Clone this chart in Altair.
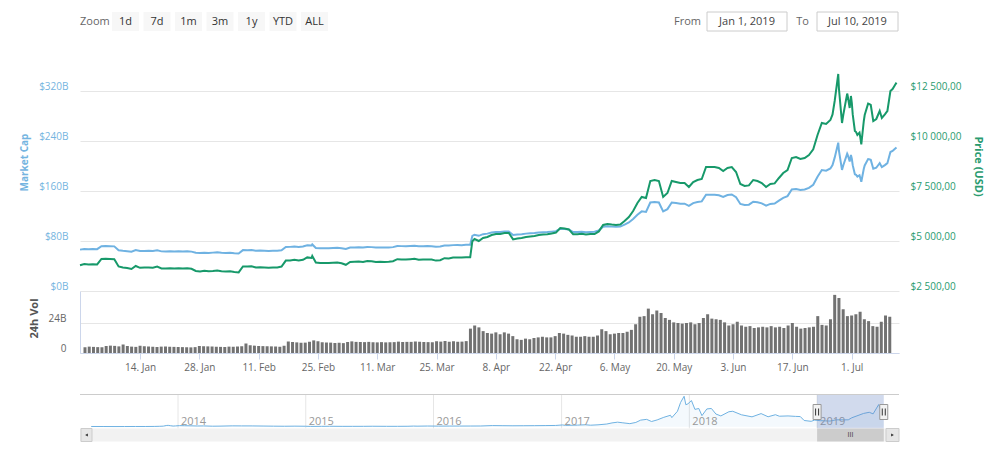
import altair as alt
import pandas as pd

# ---------------- data ----------------
# daily price (USD) and market cap ($B), Jan 1 .. Jun 25 2019
price_jan = [3790, 3850, 3820, 3840, 3830, 4100, 4110, 4100, 4090, 3730, 3680, 3650, 3600, 3750, 3660, 3670,
             3680, 3660, 3720, 3630, 3620, 3640, 3630, 3640, 3630, 3640, 3610, 3500, 3480, 3510, 3490]
price_feb = [3500, 3530, 3490, 3480, 3490, 3450, 3430, 3730, 3720, 3740, 3680, 3690, 3680, 3660, 3670, 3680,
             3720, 4020, 4030, 4060, 4020, 4060, 4180, 4150, 3920, 3900, 3900, 3900]
price_mar = [3910, 3920, 3890, 3810, 3950, 3960, 3970, 3950, 4000, 3990, 3950, 3960, 3950, 3960, 3990, 4090,
             4080, 4070, 4090, 4110, 4060, 4070, 4080, 4070, 4020, 4040, 4140, 4130, 4170, 4180, 4170]
price_apr = [4190, 4190, 5100, 5000, 5150, 5200, 5300, 5350, 5350, 5400, 5400, 5080, 5120, 5150, 5200, 5230,
             5250, 5300, 5320, 5340, 5380, 5420, 5650, 5620, 5580, 5340, 5340, 5360, 5330, 5350]
price_may = [5350, 5480, 5800, 5850, 5820, 5800, 5820, 6000, 6200, 6500, 6900, 7200, 7150, 8000, 8050, 8000,
             7200, 7400, 8000, 7950, 7900, 7900, 7700, 7950, 8050, 8100, 8700, 8700, 8700, 8650, 8500]
price_jun = [8650, 8700, 8450, 7850, 7750, 7780, 8050, 8000, 7900, 7700, 7850, 7880, 8150, 8400, 8550, 9150,
             9200, 9100, 9150, 9300, 9580, 10300, 10900, 10850, 11050]

mcap_jan = [66.2, 67.2, 66.7, 67.0, 66.9, 71.6, 71.8, 71.6, 71.4, 65.1, 64.3, 63.7, 62.9, 65.5, 63.9, 64.1,
            64.3, 63.9, 65.0, 63.4, 63.2, 63.6, 63.4, 63.6, 63.4, 63.6, 63.0, 61.1, 60.8, 61.3, 60.9]
mcap_feb = [61.4, 61.9, 61.2, 61.0, 61.2, 60.5, 60.1, 65.4, 65.2, 65.6, 64.5, 64.7, 64.5, 64.2, 64.3, 64.5,
            65.2, 70.5, 70.6, 71.2, 70.5, 71.2, 73.3, 72.7, 68.7, 68.4, 68.4, 68.4]
mcap_mar = [68.8, 69.0, 68.5, 67.1, 69.5, 69.7, 69.9, 69.5, 70.4, 70.2, 69.5, 69.7, 69.5, 69.7, 70.2, 72.0,
            71.8, 71.6, 72.0, 72.3, 71.5, 71.6, 71.8, 71.6, 70.8, 71.1, 72.9, 72.7, 73.4, 73.6, 73.4]
mcap_apr = [74.0, 74.0, 90.0, 88.3, 90.9, 91.8, 93.5, 94.4, 94.4, 95.3, 95.3, 89.7, 90.4, 90.9, 91.8, 92.3,
            92.7, 93.5, 93.9, 94.3, 95.0, 95.7, 99.7, 99.2, 98.5, 94.3, 94.3, 94.6, 94.1, 94.4]
mcap_may = [94.7, 97.0, 102.7, 103.5, 103.0, 102.7, 103.0, 106.2, 109.7, 115.1, 122.1, 127.4, 126.6, 141.6,
            142.5, 141.6, 127.4, 131.0, 141.6, 140.7, 139.8, 139.8, 136.3, 140.7, 142.5, 143.4, 154.0, 154.0,
            154.0, 153.1, 150.5]
mcap_jun = [153.5, 154.4, 150.0, 139.3, 137.6, 138.1, 142.9, 142.0, 140.2, 136.7, 139.3, 139.9, 144.7, 149.1,
            151.8, 162.4, 163.3, 161.5, 162.4, 165.1, 170.0, 182.8, 193.5, 192.6, 196.1]

# intraday points
extra_dates = ["2019-02-24T04:00:00", "2019-04-02T12:00:00"]
extra_price = [4250, 4990]
extra_mcap = [74.5, 88.1]

late_dates = ["2019-06-25T12:00:00", "2019-06-26T00:00:00", "2019-06-26T20:00:00", "2019-06-27T00:00:00",
              "2019-06-27T17:00:00", "2019-06-28T00:00:00", "2019-06-28T22:00:00", "2019-06-29T00:00:00",
              "2019-06-29T12:00:00", "2019-06-29T19:00:00", "2019-06-30T00:00:00", "2019-06-30T05:00:00",
              "2019-06-30T17:00:00", "2019-07-01T00:00:00", "2019-07-01T07:00:00", "2019-07-01T19:00:00",
              "2019-07-02T00:00:00", "2019-07-02T05:00:00", "2019-07-02T19:00:00", "2019-07-03T00:00:00",
              "2019-07-03T19:00:00", "2019-07-04T00:00:00", "2019-07-04T10:00:00", "2019-07-05T00:00:00",
              "2019-07-05T17:00:00", "2019-07-06T00:00:00", "2019-07-06T12:00:00", "2019-07-07T00:00:00",
              "2019-07-07T17:00:00", "2019-07-08T00:00:00", "2019-07-08T07:00:00", "2019-07-09T00:00:00",
              "2019-07-09T12:00:00", "2019-07-10T00:00:00", "2019-07-10T10:00:00"]
late_price = [11330, 12000, 13350, 12600, 10900, 11300, 12370, 12300, 11650, 12250, 11900, 11330, 10500,
              10450, 10300, 10420, 10150, 9830, 11000, 11300, 11870, 11850, 11800, 11000, 11100, 11250, 11500,
              11150, 11330, 11420, 11500, 12500, 12600, 12780, 12920]
late_mcap = [201.4, 213.4, 237.4, 224.0, 193.8, 200.9, 219.9, 218.7, 207.1, 217.8, 211.6, 201.4, 186.7,
             185.8, 183.1, 185.3, 180.5, 174.8, 195.6, 200.9, 211.0, 210.7, 209.8, 195.6, 197.4, 200.0, 204.5,
             198.2, 201.4, 203.0, 204.5, 222.3, 224.0, 227.2, 229.7]

# daily 24h volume ($B), Jan 1 .. Jul 10 2019
vol_jan = [4.6, 5.1, 4.9, 4.7, 4.6, 5.6, 5.9, 5.7, 5.3, 6.8, 5.6, 5.1, 4.9, 5.8, 5.4, 5.2, 5.0, 4.8, 5.1, 5.2,
           5.0, 4.9, 4.8, 4.7, 4.6, 4.5, 4.7, 5.6, 5.4, 5.3, 5.2]
vol_feb = [5.0, 4.9, 4.8, 5.1, 5.0, 5.2, 5.4, 7.6, 6.2, 5.9, 5.6, 5.5, 5.4, 5.3, 5.2, 5.0, 5.8, 9.2, 8.8, 8.5,
           8.2, 8.3, 9.0, 10.1, 9.4, 8.6, 8.4, 8.3]
vol_mar = [8.0, 8.2, 7.9, 8.8, 9.3, 8.9, 8.8, 8.7, 8.9, 8.6, 8.5, 8.7, 8.5, 8.6, 8.7, 9.1, 8.8, 8.9, 8.9, 9.2,
           9.0, 8.8, 8.7, 8.6, 9.4, 9.1, 9.6, 9.0, 9.4, 9.0, 9.1]
vol_apr = [9.5, 19.5, 22.0, 20.5, 17.5, 16.0, 15.5, 16.5, 15.0, 16.5, 15.5, 13.5, 11.0, 10.5, 11.5, 11.0,
           12.0, 12.5, 13.0, 12.5, 12.5, 13.5, 16.0, 15.5, 14.5, 14.0, 13.0, 13.0, 13.5, 13.0]
vol_may = [13.0, 14.0, 19.0, 17.5, 15.0, 15.5, 16.0, 16.0, 17.0, 18.5, 23.0, 29.0, 29.5, 35.5, 31.0, 34.0,
           32.0, 28.0, 26.5, 24.5, 24.0, 23.5, 24.0, 24.5, 23.0, 24.0, 28.0, 31.0, 27.5, 27.0, 26.5]
vol_jun = [24.5, 22.0, 23.0, 25.0, 22.0, 21.0, 21.5, 20.0, 20.5, 21.0, 20.5, 21.5, 20.5, 21.0, 20.0, 22.0,
           24.0, 21.0, 19.5, 20.0, 20.5, 21.0, 29.5, 22.5, 22.0, 27.0, 46.5, 44.0, 35.0, 29.5]
vol_jul = [30.0, 31.0, 33.0, 27.0, 25.5, 21.5, 21.0, 25.0, 30.0, 29.0]

# navigator: full-history market cap ($B)
nav_dates = ["2013-04-28", "2013-06-01", "2013-07-05", "2013-08-01", "2013-09-01", "2013-10-01", "2013-10-25",
             "2013-11-10", "2013-11-20", "2013-11-30", "2013-12-04", "2013-12-10", "2013-12-18", "2013-12-25",
             "2014-01-05", "2014-01-20", "2014-02-10", "2014-02-25", "2014-03-15", "2014-04-10", "2014-05-01",
             "2014-06-05", "2014-07-01", "2014-08-01", "2014-09-01", "2014-10-01", "2014-11-01", "2014-12-01",
             "2015-01-01", "2015-01-15", "2015-02-15", "2015-03-10", "2015-04-15", "2015-05-15", "2015-06-15",
             "2015-07-10", "2015-08-20", "2015-09-20", "2015-10-20", "2015-11-05", "2015-11-15", "2015-12-15",
             "2016-01-15", "2016-02-15", "2016-03-15", "2016-04-15", "2016-05-15", "2016-06-17", "2016-07-15",
             "2016-08-15", "2016-09-15", "2016-10-15", "2016-11-15", "2016-12-15", "2017-01-04", "2017-01-12",
             "2017-02-15", "2017-03-10", "2017-03-25", "2017-04-15", "2017-05-10", "2017-05-25", "2017-06-10",
             "2017-06-25", "2017-07-15", "2017-08-01", "2017-08-15", "2017-09-01", "2017-09-15", "2017-10-01",
             "2017-10-20", "2017-11-08", "2017-11-12", "2017-11-28", "2017-12-07", "2017-12-17", "2017-12-22",
             "2017-12-28", "2018-01-07", "2018-01-17", "2018-01-28", "2018-02-06", "2018-02-20", "2018-03-05",
             "2018-03-18", "2018-04-01", "2018-04-24", "2018-05-05", "2018-05-30", "2018-06-29", "2018-07-25",
             "2018-08-14", "2018-09-04", "2018-09-15", "2018-10-10", "2018-10-31", "2018-11-14", "2018-11-25",
             "2018-12-15", "2018-12-25", "2019-01-10", "2019-02-07", "2019-02-24", "2019-03-31", "2019-04-10",
             "2019-05-14", "2019-05-30", "2019-06-10", "2019-06-26", "2019-07-02", "2019-07-10"]
nav_mcap = [1.5, 1.4, 0.8, 1.2, 1.6, 1.5, 2.3, 3.8, 5.5, 13.0, 13.6, 10.5, 6.0, 8.0,
            11.0, 10.0, 8.5, 7.0, 7.8, 4.8, 5.6, 8.4, 8.0, 7.7, 6.4, 5.1, 4.3, 5.2,
            4.3, 2.4, 3.3, 4.0, 3.1, 3.3, 3.4, 4.3, 3.4, 3.4, 4.1, 6.0, 5.0, 6.6,
            5.8, 6.3, 6.3, 6.6, 7.0, 11.5, 10.3, 9.2, 9.7, 10.5, 11.5, 12.6, 18.4, 13.5,
            16.5, 20.0, 15.5, 19.5, 28.0, 40.0, 48.0, 41.0, 32.0, 45.0, 70.0, 78.0, 55.0, 72.0,
            100.0, 122.0, 97.0, 165.0, 260.0, 326.0, 235.0, 245.0, 280.0, 185.0, 195.0, 118.0, 190.0, 195.0,
            135.0, 115.0, 160.0, 165.0, 127.0, 105.0, 140.0, 106.0, 128.0, 112.0, 115.0, 110.0, 108.0, 66.0,
            57.0, 70.0, 64.0, 60.0, 73.0, 73.0, 95.0, 142.0, 154.0, 137.0, 237.0, 175.0, 230.0]
nav_years = ["2014", "2015", "2016", "2017", "2018", "2019"]
selection = ["2019-01-01T00:00:00", "2019-07-10T12:00:00"]

zoom_buttons = ["1d", "7d", "1m", "3m", "1y", "YTD", "ALL"]
date_from = "Jan 1, 2019"
date_to = "Jul 10, 2019"
mc_ticks = [0, 80, 160, 240, 320]
price_ticks = [2500, 5000, 7500, 10000, 12500]
vol_ticks = [0, 24]
x_ticks = [(1, 14), (1, 28), (2, 11), (2, 25), (3, 11), (3, 25), (4, 8), (4, 22), (5, 6), (5, 20),
           (6, 3), (6, 17), (7, 1)]

# ---------------- tables ----------------
dates_daily = list(pd.date_range("2019-01-01", "2019-06-25", freq="D"))
price_daily = price_jan + price_feb + price_mar + price_apr + price_may + price_jun
mcap_daily = mcap_jan + mcap_feb + mcap_mar + mcap_apr + mcap_may + mcap_jun
assert len(dates_daily) == len(price_daily) == len(mcap_daily)
assert len(late_dates) == len(late_price) == len(late_mcap)

df_main = pd.DataFrame({
    "date": dates_daily + list(pd.to_datetime(extra_dates + late_dates)),
    "price": price_daily + extra_price + late_price,
    "mcap": mcap_daily + extra_mcap + late_mcap,
}).sort_values("date")

vol_all = vol_jan + vol_feb + vol_mar + vol_apr + vol_may + vol_jun + vol_jul
df_vol = pd.DataFrame({"date": list(pd.date_range("2019-01-01", "2019-07-10", freq="D")), "vol": vol_all})
assert len(df_vol) == 191

df_nav = pd.DataFrame({"date": pd.to_datetime(nav_dates), "mcap": nav_mcap})
df_years = pd.DataFrame({"date": pd.to_datetime([y + "-01-01T00:00:00" for y in nav_years]), "label": nav_years})
sel_start, sel_end = pd.to_datetime(selection)
df_sel = pd.DataFrame({"start": [sel_start], "end": [sel_end], "mid": [sel_start + (sel_end - sel_start) / 2]})
df_handles = pd.DataFrame({"date": [sel_start, sel_end]})

# ---------------- style / layout ----------------
FONT = "Open Sans"
BLUE = "#6fb2e2"
BLUE_TXT = "#74b4e0"
GREEN = "#17996a"
GREEN_TXT = "#2a9b6f"
VOL_GRAY = "#727272"
GRID = "#e6e6e6"
AXIS_LINE = "#ccd6eb"

W = 819
H_MAIN = 225
H_VOL = 62
NAV_GAP = 41.5      # empty band between the volume panel and the navigator
NAV_H = 34          # navigator series band
SB_H = 13           # scrollbar height
H_NAV = NAV_GAP + NAV_H

BTN_X0, BTN_STEP, BTN_W = 32, 31.5, 27
HDR_Y0, HDR_Y1 = -54, -35
HDR_YC = (HDR_Y0 + HDR_Y1) / 2


def dt(y, m, d):
    return alt.DateTime(year=y, month=m, date=d)


main_scale = alt.Scale(domain=[dt(2019, 1, 1), dt(2019, 7, 11)], nice=False)
main_x = alt.X("date:T", scale=main_scale, axis=None)

# ---------------- main panel ----------------
base = alt.Chart(df_main)
mc_line = base.mark_line(color=BLUE, strokeWidth=2).encode(
    x=main_x,
    y=alt.Y("mcap:Q", scale=alt.Scale(domain=[0, 360], nice=False, zero=False),
            axis=alt.Axis(orient="left", values=mc_ticks, labelExpr="'$' + datum.value + 'B'",
                          grid=True, gridColor=GRID, domain=False, ticks=False, tickSize=0,
                          labelPadding=12, labelOffset=-5, labelColor=BLUE_TXT, labelFont=FONT,
                          labelFontSize=10, title="Market Cap", titleColor=BLUE_TXT, titleFont=FONT,
                          titleFontSize=10, titleFontWeight="bold", titleAngle=270, titleX=-56, titleY=96,
                          titleAlign="center", titleBaseline="middle")),
)
price_line = base.mark_line(color=GREEN, strokeWidth=2).encode(
    x=main_x,
    y=alt.Y("price:Q", scale=alt.Scale(domain=[2500, 13750], nice=False, zero=False),
            axis=alt.Axis(orient="right", values=price_ticks,
                          labelExpr="'$' + floor(datum.value / 1000) + ' ' + format(datum.value % 1000, '03d') + ',00'",
                          grid=False, domain=False, ticks=False, tickSize=0, labelPadding=11, labelOffset=-5,
                          labelColor=GREEN_TXT, labelFont=FONT, labelFontSize=10,
                          title="Price (USD)", titleColor=GREEN_TXT, titleFont=FONT, titleFontSize=11,
                          titleFontWeight="bold", titleAngle=90, titleX=78, titleY=100,
                          titleAlign="center", titleBaseline="middle")),
)

# header: range selector and date inputs
df_btn = pd.DataFrame({"label": zoom_buttons})
btn_base = alt.Chart(df_btn).transform_window(idx="row_number()").transform_calculate(
    x0=f"{BTN_X0} + (datum.idx - 1) * {BTN_STEP}",
    x1=f"{BTN_X0} + (datum.idx - 1) * {BTN_STEP} + {BTN_W}",
    xc=f"{BTN_X0} + (datum.idx - 1) * {BTN_STEP} + {BTN_W / 2}",
)
btn_rects = btn_base.mark_rect(fill="#f7f7f7").encode(
    x=alt.X("x0:Q", scale=None, axis=None), x2="x1:Q",
    y=alt.value(HDR_Y0), y2=alt.value(HDR_Y1))
btn_text = btn_base.mark_text(font=FONT, fontSize=11, color="#333333", baseline="middle").encode(
    x=alt.X("xc:Q", scale=None, axis=None), y=alt.value(HDR_YC), text="label:N")

zoom_lbl = alt.Chart(pd.DataFrame({"t": ["Zoom"], "px": [0]})).mark_text(
    font=FONT, fontSize=11, color="#666666", baseline="middle", align="left").encode(
    x=alt.X("px:Q", scale=None, axis=None), y=alt.value(HDR_YC), text="t:N")
fromto_lbl = alt.Chart(pd.DataFrame({"t": ["From", "To"], "px": [621, 729]})).mark_text(
    font=FONT, fontSize=11, color="#666666", baseline="middle", align="right").encode(
    x=alt.X("px:Q", scale=None, axis=None), y=alt.value(HDR_YC), text="t:N")

df_boxes = pd.DataFrame({"t": [date_from, date_to], "x0": [627, 737], "x1": [707, 818]})
box_rects = alt.Chart(df_boxes).mark_rect(fill="white", stroke="#cccccc", strokeWidth=1).encode(
    x=alt.X("x0:Q", scale=None, axis=None), x2="x1:Q", y=alt.value(HDR_Y0), y2=alt.value(HDR_Y1))
box_text = alt.Chart(df_boxes).transform_calculate(xc="(datum.x0 + datum.x1) / 2").mark_text(
    font=FONT, fontSize=11, color="#444444", baseline="middle").encode(
    x=alt.X("xc:Q", scale=None, axis=None), y=alt.value(HDR_YC), text="t:N")

main = alt.layer(mc_line, price_line, btn_rects, btn_text, zoom_lbl, fromto_lbl, box_rects, box_text
                 ).resolve_scale(y="independent", x="independent").properties(width=W, height=H_MAIN)

# ---------------- volume panel ----------------
vol_chart = alt.Chart(df_vol).mark_bar(color=VOL_GRAY, size=3).encode(
    x=alt.X("date:T", scale=main_scale,
            axis=alt.Axis(values=[dt(2019, m, d) for m, d in x_ticks], format="%-d. %b", grid=False,
                          labelFont=FONT, labelFontSize=10, labelColor="#666666", labelPadding=3,
                          tickColor=AXIS_LINE, tickSize=6, domainColor=AXIS_LINE, title=None)),
    y=alt.Y("vol:Q", scale=alt.Scale(domain=[0, 49.6], nice=False),
            axis=alt.Axis(values=vol_ticks, labelExpr="datum.value == 0 ? '0' : datum.value + 'B'",
                          grid=True, gridColor=GRID, domain=True, domainColor=AXIS_LINE, ticks=False,
                          tickSize=0, labelPadding=14, labelOffset=-5, labelColor="#666666", labelFont=FONT,
                          labelFontSize=10, title="24h Vol", titleColor="#555555", titleFont=FONT,
                          titleFontSize=11, titleFontWeight="bold", titleAngle=270, titleX=-46, titleY=27,
                          titleAlign="center", titleBaseline="middle")),
).properties(width=W, height=H_VOL)

# ---------------- navigator ----------------
nav_scale = alt.Scale(domain=[dt(2013, 3, 27), dt(2019, 8, 23)], nice=False)
nav_y = alt.Scale(domain=[-20, 345], nice=False, zero=False, range=[NAV_GAP + NAV_H, NAV_GAP])
T0, T1 = NAV_GAP, NAV_GAP + NAV_H
S1 = T1 + SB_H

nav_top = alt.Chart(df_sel).mark_rule(color="#cccccc").encode(
    x=alt.value(0), x2=alt.value(W), y=alt.value(T0))
nav_grid = alt.Chart(df_years).mark_rule(color=GRID).encode(
    x=alt.X("date:T", scale=nav_scale, axis=None), y=alt.value(T0), y2=alt.value(T1))
nav_lbl = alt.Chart(df_years).mark_text(align="left", dx=3, baseline="middle", font=FONT, fontSize=11,
                                         color="#999999").encode(
    x=alt.X("date:T", scale=nav_scale, axis=None), y=alt.value(T0 + 27), text="label:N")
nav_area = alt.Chart(df_nav).mark_area(color=BLUE, opacity=0.08).encode(
    x=alt.X("date:T", scale=nav_scale, axis=None), y=alt.Y("mcap:Q", scale=nav_y, axis=None),
    y2=alt.value(T1))
nav_line = alt.Chart(df_nav).mark_line(color=BLUE, strokeWidth=1).encode(
    x=alt.X("date:T", scale=nav_scale, axis=None), y=alt.Y("mcap:Q", scale=nav_y, axis=None))
nav_mask = alt.Chart(df_sel).mark_rect(fill="#6685c2", opacity=0.3).encode(
    x=alt.X("start:T", scale=nav_scale, axis=None), x2="end:T", y=alt.value(T0), y2=alt.value(T1))
sb_track = alt.Chart(df_sel).mark_rect(fill="#f2f2f2").encode(
    x=alt.value(0), x2=alt.value(W), y=alt.value(T1), y2=alt.value(S1))
sb_thumb = alt.Chart(df_sel).mark_rect(fill="#cccccc").encode(
    x=alt.X("start:T", scale=nav_scale, axis=None), x2="end:T", y=alt.value(T1), y2=alt.value(S1))
sb_grip = alt.Chart(df_sel).mark_text(text="III", font=FONT, fontSize=7, color="#333333",
                                       baseline="middle").encode(
    x=alt.X("mid:T", scale=nav_scale, axis=None), y=alt.value(T1 + SB_H / 2))
sb_btn_l = alt.Chart(df_sel).mark_rect(fill="#e6e6e6", stroke="#cccccc").encode(
    x=alt.value(1), x2=alt.value(12), y=alt.value(T1), y2=alt.value(S1))
sb_btn_r = alt.Chart(df_sel).mark_rect(fill="#e6e6e6", stroke="#cccccc").encode(
    x=alt.value(W - 13), x2=alt.value(W), y=alt.value(T1), y2=alt.value(S1))
sb_arr_l = alt.Chart(df_sel).mark_point(shape="triangle-left", filled=True, size=10, color="#333333",
                                         opacity=1).encode(x=alt.value(6.5), y=alt.value(T1 + SB_H / 2))
sb_arr_r = alt.Chart(df_sel).mark_point(shape="triangle-right", filled=True, size=10, color="#333333",
                                         opacity=1).encode(x=alt.value(W - 6.5), y=alt.value(T1 + SB_H / 2))
handles = alt.Chart(df_handles).mark_rect(fill="#f2f2f2", stroke="#999999", strokeWidth=1,
                                           xOffset=-4, x2Offset=4).encode(
    x=alt.X("date:T", scale=nav_scale, axis=None), x2="date:T", y=alt.value(T0 + 10), y2=alt.value(T0 + 25))
grip_l = alt.Chart(df_handles).mark_rule(color="#333333", xOffset=-1.5).encode(
    x=alt.X("date:T", scale=nav_scale, axis=None), y=alt.value(T0 + 14), y2=alt.value(T0 + 21))
grip_r = alt.Chart(df_handles).mark_rule(color="#333333", xOffset=1.5).encode(
    x=alt.X("date:T", scale=nav_scale, axis=None), y=alt.value(T0 + 14), y2=alt.value(T0 + 21))

nav = alt.layer(nav_grid, nav_area, nav_line, nav_lbl, nav_mask, nav_top, sb_track, sb_thumb, sb_grip,
                sb_btn_l, sb_btn_r, sb_arr_l, sb_arr_r, handles, grip_l, grip_r).resolve_scale(
    y="independent").properties(width=W, height=H_NAV)

chart = alt.vconcat(main, vol_chart, nav, spacing=0, bounds="flush").properties(
    padding={"left": 11, "top": 3, "right": 5, "bottom": 5}, background="white"
).configure(font=FONT).configure_view(stroke=None, strokeWidth=0)

chart.save("out.html", embed_options={"renderer": "svg", "actions": False})
